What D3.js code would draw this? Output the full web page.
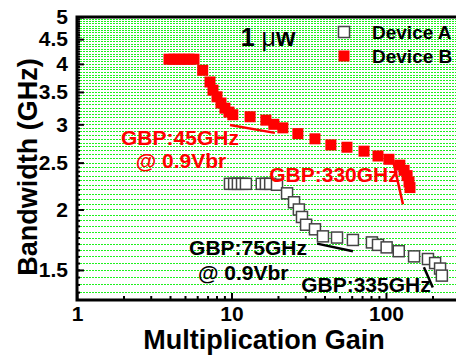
<html>

<head>
    <script src="https://d3js.org/d3.v7.min.js"></script>
    <style>
        body { margin: 0; background: #fff; }
        text { font-family: "Liberation Sans", Arial, sans-serif; font-weight: bold; }
        .gridlines line { stroke: #1ef01e; stroke-dasharray: 2, 1; shape-rendering: crispEdges; }
        .gridlines .domain { stroke: none; }
        .axis .domain { stroke: none; }
        .axis line { stroke: #000; stroke-width: 2; }
    </style>
</head>

<body>
    <script>
        // Device A (open squares)
        const gainA = [9.78, 10.4, 11.0, 11.7, 12.4, 15.7, 16.7, 17.8, 19.7, 22.9, 25.4, 27.3, 28.6, 30.4,
            34.7, 39.1, 48.2, 61.1, 81.1, 88.8, 101, 121, 152, 187, 208, 224, 230];
        const bwA = [2.26, 2.26, 2.26, 2.26, 2.26, 2.26, 2.26, 2.26, 2.25, 2.16, 2.07, 2.0, 1.93, 1.86,
            1.82, 1.76, 1.75, 1.73, 1.71, 1.69, 1.67, 1.64, 1.60, 1.58, 1.55, 1.51, 1.46];

        // Device B (filled squares)
        const gainB = [3.94, 4.24, 4.57, 4.93, 5.31, 5.72, 6.51, 7.26, 7.59, 8.06, 8.55, 9.07, 9.63, 10.2,
            13.2, 16.7, 18.8, 21.5, 26.9, 34.7, 44.0, 55.9, 72.1, 88.8, 104.5, 123, 131, 137, 141, 143];
        const bwB = [4.09, 4.09, 4.09, 4.09, 4.09, 4.09, 3.88, 3.67, 3.53, 3.42, 3.32, 3.24, 3.18, 3.14,
            3.11, 3.06, 3.0, 2.95, 2.87, 2.80, 2.72, 2.69, 2.64, 2.58, 2.54, 2.47, 2.41, 2.35, 2.28, 2.22];

        const xTicks = [1, 10, 100];
        const xMinor = [2, 3, 4, 5, 6, 7, 8, 9, 20, 30, 40, 50, 60, 70, 80, 90, 200];
        const yTicks = [1.5, 2, 2.5, 3, 3.5, 4, 4.5, 5];
        const yMinor = d3.range(27, 101).map(i => i * 0.05);

        // GBP fit lines
        const gbpLines = [
            { g: [9.78, 19.1], b: [2.99, 2.88], color: "#ff0000" },
            { g: [111, 128.8], b: [2.53, 2.05], color: "#ff0000" },
            { g: [35.8, 61.1], b: [1.70, 1.64], color: "#000" },
            { g: [176, 201], b: [1.52, 1.38], color: "#000" }
        ];
        const notes = [
            { t: "GBP:45GHz", g: 4.64, b: 2.72, color: "#ff0000" },
            { t: "@ 0.9Vbr", g: 4.71, b: 2.44, color: "#ff0000" },
            { t: "GBP:330GHz", g: 46.1, b: 2.28, color: "#ff0000" },
            { t: "GBP:75GHz", g: 12.8, b: 1.61, color: "#000" },
            { t: "@ 0.9Vbr", g: 11.9, b: 1.43, color: "#000" },
            { t: "GBP:335GHz", g: 74.2, b: 1.35, color: "#000" }
        ];

        const svg = d3.select("body").append("svg")
            .attr("width", 456)
            .attr("height", 355);

        const margins = { "top": 17, "right": 0, "bottom": 55, "left": 77 };
        const plotL = margins.left, plotR = 456 - margins.right;
        const plotT = margins.top, plotB = 355 - margins.bottom;

        const x = d3.scaleLog().domain([1, 284]).range([plotL, plotR]);
        const y = d3.scaleLog().domain([1.3, 5]).range([plotB, plotT]);

        // dotted gridlines
        svg.append("g")
            .attr("class", "gridlines")
            .attr("transform", "translate(" + plotL + ",0)")
            .call(d3.axisLeft(y).tickValues(yMinor).tickSize(-(plotR - plotL)).tickFormat(""));

        // minor ticks
        svg.append("g").attr("class", "axis")
            .attr("transform", "translate(" + plotL + ",0)")
            .call(d3.axisLeft(y).tickValues(yMinor).tickSize(-3).tickFormat(""));
        svg.append("g").attr("class", "axis")
            .attr("transform", "translate(0," + plotB + ")")
            .call(d3.axisBottom(x).tickValues(xMinor).tickSize(-4).tickFormat(""));

        // major ticks + labels
        svg.append("g").attr("class", "axis y")
            .attr("transform", "translate(" + plotL + ",0)")
            .call(d3.axisLeft(y).tickValues(yTicks).tickSize(-7).tickPadding(9).tickFormat(d3.format("")))
            .selectAll("text").style("font-size", "21px").attr("fill", "#000");
        svg.append("g").attr("class", "axis x")
            .attr("transform", "translate(0," + plotB + ")")
            .call(d3.axisBottom(x).tickValues(xTicks).tickSize(-7).tickPadding(6).tickFormat(d3.format("")))
            .selectAll("text").style("font-size", "21px").attr("fill", "#000");

        // frame
        svg.append("path")
            .attr("d", "M" + plotR + "," + plotT + "H" + plotL + "V" + plotB + "H" + plotR)
            .attr("fill", "none")
            .attr("stroke", "#000")
            .attr("stroke-width", 3);

        // GBP lines
        svg.selectAll(".gbp").data(gbpLines)
            .join("line")
            .attr("class", "gbp")
            .attr("x1", d => x(d.g[0])).attr("y1", d => y(d.b[0]))
            .attr("x2", d => x(d.g[1])).attr("y2", d => y(d.b[1]))
            .attr("stroke", d => d.color)
            .attr("stroke-width", 2.5);

        // Device A
        const A = gainA.map((g, i) => ({ g: g, b: bwA[i] }));
        svg.selectAll(".ptA").data(A)
            .join("rect")
            .attr("class", "ptA")
            .attr("x", d => x(d.g) - 5.5).attr("y", d => y(d.b) - 5.5)
            .attr("width", 11).attr("height", 11)
            .attr("fill", "#fff")
            .attr("stroke", "#444")
            .attr("stroke-width", 1.5);

        // Device B
        const B = gainB.map((g, i) => ({ g: g, b: bwB[i] }));
        svg.selectAll(".ptB").data(B)
            .join("rect")
            .attr("class", "ptB")
            .attr("x", d => x(d.g) - 5.5).attr("y", d => y(d.b) - 5.5)
            .attr("width", 11).attr("height", 11)
            .attr("fill", "#ff0000");

        // annotations
        svg.selectAll(".note").data(notes)
            .join("text")
            .attr("class", "note")
            .attr("x", d => x(d.g)).attr("y", d => y(d.b))
            .attr("text-anchor", "middle")
            .style("font-size", "21px")
            .attr("fill", d => d.color)
            .text(d => d.t);

        const pw = svg.append("text")
            .attr("x", 268).attr("y", 46)
            .attr("text-anchor", "middle")
            .style("font-size", "25px");
        pw.append("tspan").text("1 ");
        pw.append("tspan").style("font-weight", "normal").text("\u03bc");
        pw.append("tspan").text("w");

        // legend
        svg.append("rect").attr("x", 338.5).attr("y", 26.5).attr("width", 11).attr("height", 11)
            .attr("fill", "#fff").attr("stroke", "#444").attr("stroke-width", 1.5);
        svg.append("rect").attr("x", 338.5).attr("y", 50.5).attr("width", 11).attr("height", 11)
            .attr("fill", "#ff0000");
        svg.append("text").attr("x", 372).attr("y", 39).style("font-size", "19px").text("Device A");
        svg.append("text").attr("x", 372).attr("y", 63).style("font-size", "19px").text("Device B");

        // axis titles
        svg.append("text")
            .attr("x", 264).attr("y", 349)
            .attr("text-anchor", "middle")
            .style("font-size", "27px")
            .text("Multiplication Gain");
        svg.append("text")
            .attr("transform", "translate(37,167) rotate(-90)")
            .attr("text-anchor", "middle")
            .style("font-size", "27px")
            .text("Bandwidth (GHz)");
    </script>
</body>

</html>
